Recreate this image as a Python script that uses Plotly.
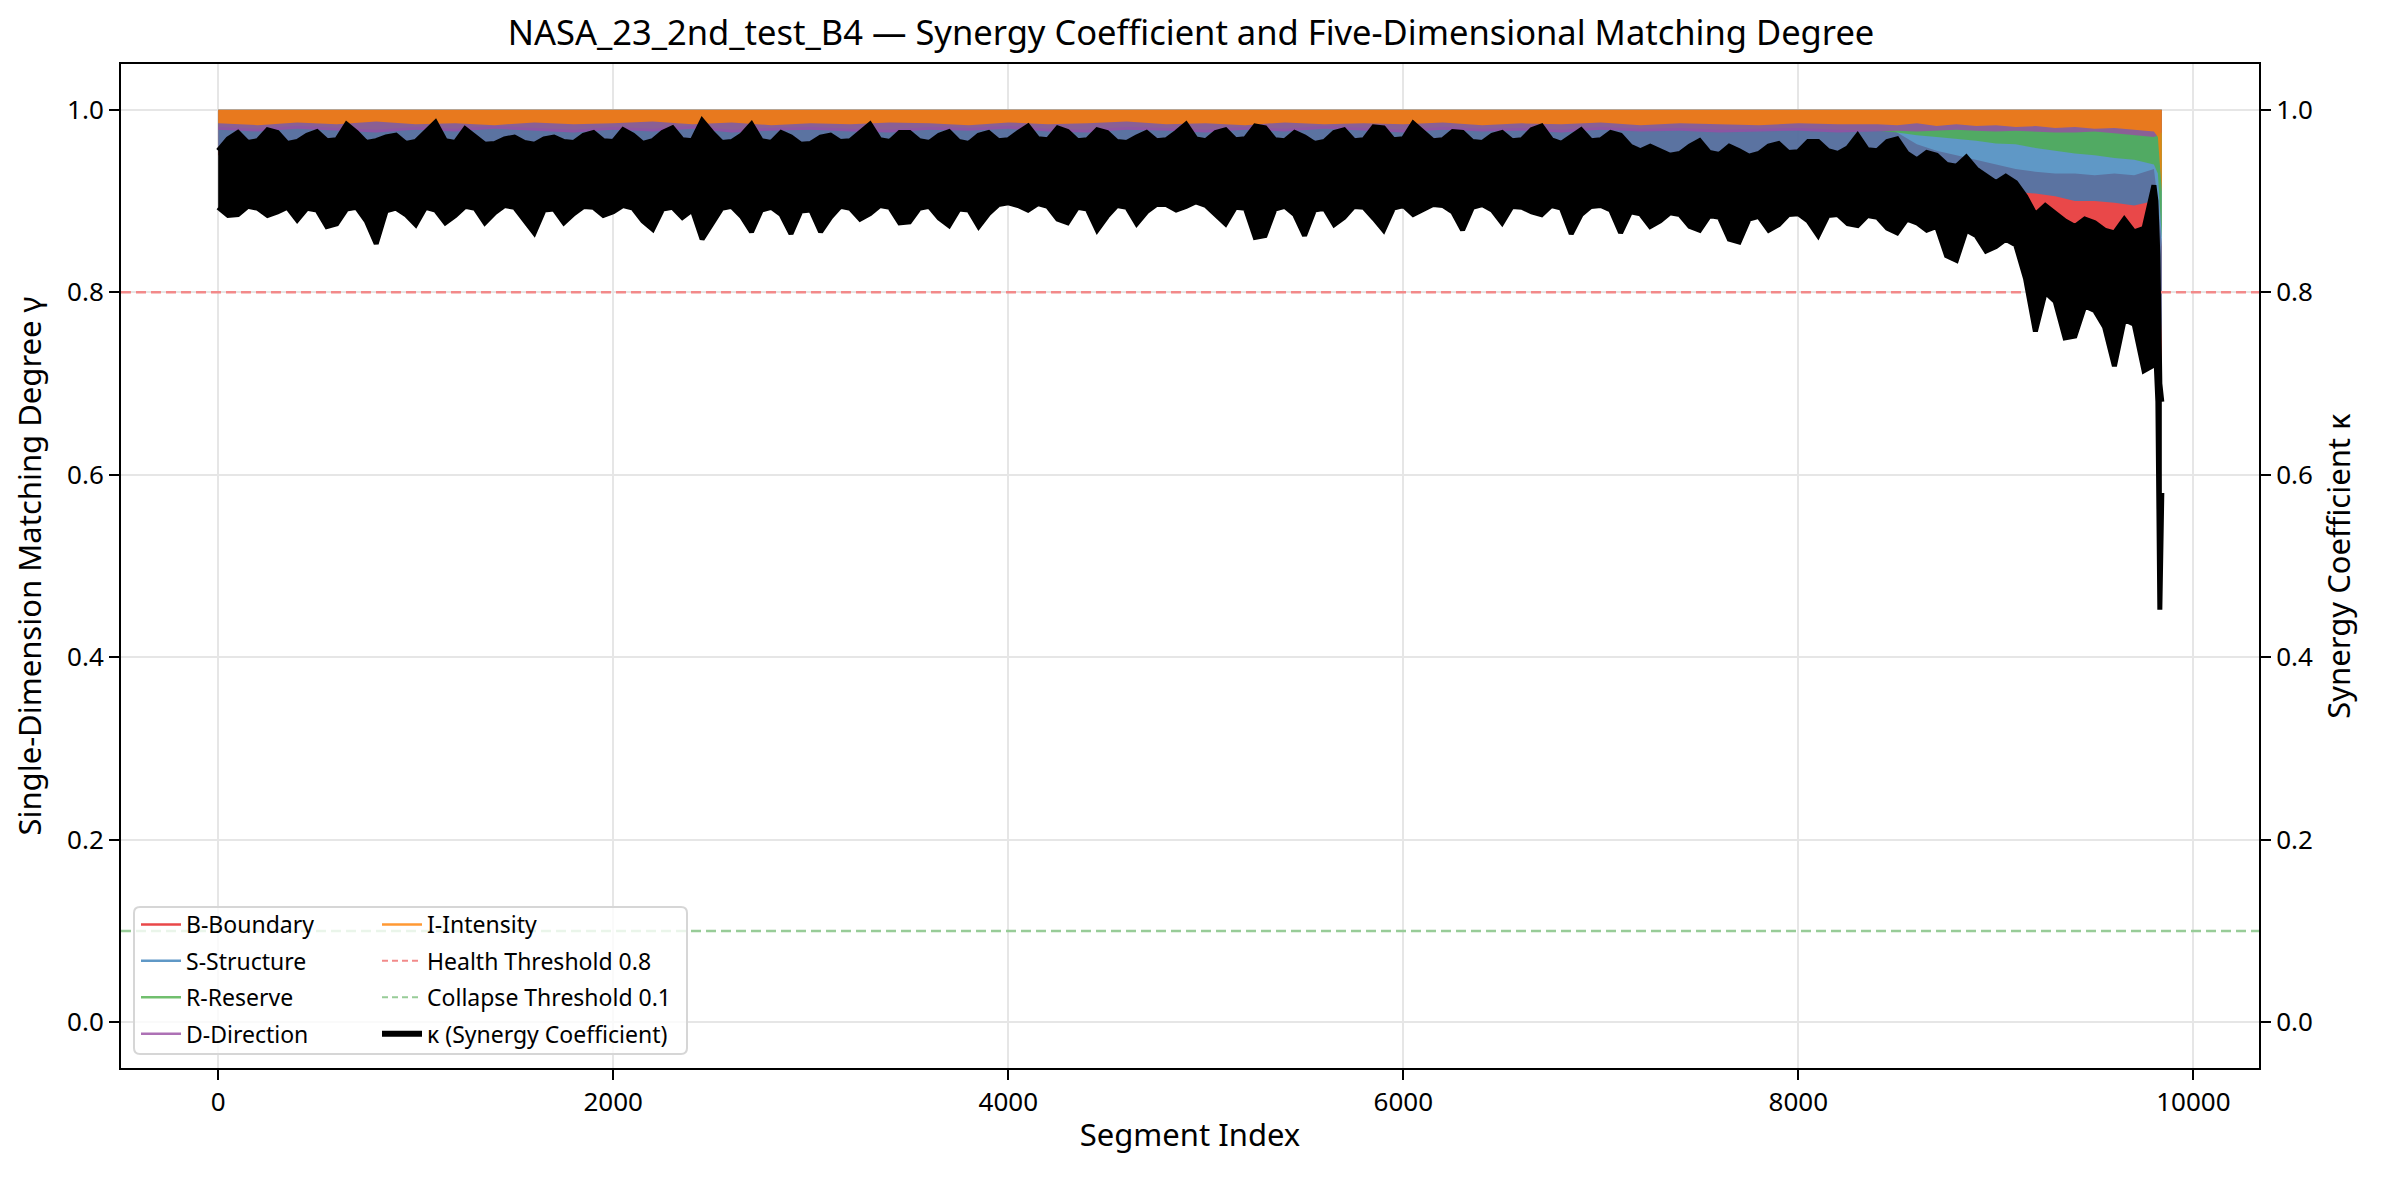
import plotly.graph_objects as go

# segment positions of the envelope samples
seg_kappa = list(range(0, 9801, 50)) + [9810, 9820, 9830, 9840]
seg_dim = list(range(0, 8400, 200)) + list(range(8400, 9801, 100)) + [9820, 9840]
X_RANGE = [-492, 10332]
Y_RANGE = [-0.05, 1.05]

# kappa (synergy coefficient): upper / lower envelope of the noisy trace, every 50 segments
kappa_hi = [
    0.955, 0.968, 0.975, 0.964, 0.966, 0.978, 0.975, 0.963, 0.965, 0.972,
    0.976, 0.966, 0.967, 0.984, 0.975, 0.964, 0.966, 0.970, 0.972, 0.963,
    0.965, 0.975, 0.986, 0.966, 0.964, 0.979, 0.970, 0.962, 0.963, 0.968,
    0.970, 0.964, 0.962, 0.968, 0.970, 0.965, 0.964, 0.972, 0.975, 0.966,
    0.965, 0.978, 0.972, 0.963, 0.966, 0.975, 0.980, 0.967, 0.966, 0.988,
    0.975, 0.964, 0.965, 0.972, 0.984, 0.966, 0.964, 0.975, 0.970, 0.962,
    0.963, 0.970, 0.972, 0.965, 0.966, 0.975, 0.984, 0.967, 0.965, 0.975,
    0.975, 0.966, 0.964, 0.972, 0.976, 0.965, 0.963, 0.972, 0.975, 0.966,
    0.967, 0.975, 0.982, 0.968, 0.967, 0.980, 0.976, 0.966, 0.967, 0.978,
    0.975, 0.965, 0.964, 0.970, 0.975, 0.966, 0.967, 0.975, 0.984, 0.968,
    0.966, 0.975, 0.978, 0.967, 0.968, 0.982, 0.980, 0.967, 0.966, 0.975,
    0.970, 0.963, 0.965, 0.975, 0.978, 0.966, 0.967, 0.981, 0.980, 0.967,
    0.968, 0.985, 0.975, 0.966, 0.967, 0.976, 0.975, 0.965, 0.964, 0.972,
    0.975, 0.966, 0.967, 0.978, 0.982, 0.967, 0.963, 0.970, 0.978, 0.966,
    0.967, 0.975, 0.972, 0.960, 0.955, 0.960, 0.955, 0.950, 0.952, 0.960,
    0.966, 0.953, 0.951, 0.960, 0.955, 0.949, 0.952, 0.960, 0.963, 0.953,
    0.954, 0.965, 0.965, 0.955, 0.952, 0.958, 0.972, 0.956, 0.955, 0.965,
    0.968, 0.952, 0.945, 0.953, 0.950, 0.940, 0.938, 0.948, 0.935, 0.928,
    0.920, 0.927, 0.920, 0.905, 0.885, 0.895, 0.887, 0.878, 0.872, 0.880,
    0.876, 0.868, 0.865, 0.880, 0.866, 0.870, 0.917,
    0.900, 0.840, 0.700, 0.680,
]
kappa_lo = [
    0.893, 0.884, 0.885, 0.894, 0.892, 0.884, 0.888, 0.893, 0.879, 0.892,
    0.890, 0.872, 0.875, 0.891, 0.893, 0.878, 0.853, 0.889, 0.892, 0.885,
    0.874, 0.893, 0.890, 0.876, 0.884, 0.894, 0.892, 0.876, 0.887, 0.895,
    0.893, 0.880, 0.865, 0.890, 0.891, 0.876, 0.886, 0.894, 0.893, 0.884,
    0.888, 0.895, 0.892, 0.878, 0.869, 0.891, 0.893, 0.882, 0.890, 0.858,
    0.876, 0.892, 0.894, 0.883, 0.866, 0.890, 0.893, 0.885, 0.864, 0.889,
    0.890, 0.866, 0.882, 0.894, 0.892, 0.880, 0.886, 0.895, 0.893, 0.876,
    0.877, 0.892, 0.894, 0.881, 0.873, 0.891, 0.890, 0.872, 0.886, 0.896,
    0.898, 0.895, 0.890, 0.897, 0.894, 0.880, 0.876, 0.893, 0.891, 0.868,
    0.883, 0.895, 0.893, 0.875, 0.888, 0.896, 0.896, 0.890, 0.894, 0.899,
    0.895, 0.885, 0.875, 0.893, 0.892, 0.860, 0.862, 0.891, 0.894, 0.885,
    0.862, 0.890, 0.892, 0.874, 0.882, 0.894, 0.893, 0.881, 0.868, 0.892,
    0.895, 0.885, 0.890, 0.896, 0.895, 0.888, 0.868, 0.893, 0.896, 0.890,
    0.876, 0.894, 0.893, 0.888, 0.885, 0.895, 0.892, 0.864, 0.885, 0.894,
    0.895, 0.890, 0.865, 0.888, 0.886, 0.872, 0.878, 0.887, 0.885, 0.872,
    0.868, 0.884, 0.882, 0.858, 0.855, 0.880, 0.883, 0.868, 0.874, 0.885,
    0.886, 0.878, 0.862, 0.884, 0.885, 0.875, 0.873, 0.884, 0.882, 0.870,
    0.865, 0.880, 0.876, 0.868, 0.872, 0.840, 0.835, 0.868, 0.862, 0.845,
    0.850, 0.858, 0.852, 0.815, 0.757, 0.800, 0.790, 0.750, 0.752, 0.785,
    0.780, 0.762, 0.719, 0.770, 0.765, 0.714, 0.720,
    0.730, 0.680, 0.452, 0.580,
]

# five matching dimensions: band edges (upper edge sits at 1.0, B drops at the end)
b_hi = [
    0.990, 0.991, 0.989, 0.990, 0.992, 0.989, 0.990, 0.991, 0.989, 0.990,
    0.991, 0.989, 0.990, 0.992, 0.990, 0.989, 0.991, 0.990, 0.989, 0.991,
    0.990, 0.992, 0.989, 0.990, 0.991, 0.989, 0.990, 0.991, 0.990, 0.989,
    0.991, 0.990, 0.989, 0.991, 0.990, 0.989, 0.990, 0.988, 0.989, 0.987,
    0.988, 0.986,
    0.985, 0.975, 0.962, 0.955, 0.950, 0.945, 0.940, 0.935, 0.932, 0.930,
    0.930, 0.928, 0.930, 0.928, 0.935,
    0.900, 0.850,
]
b_lo = [
    0.950, 0.952, 0.949, 0.951, 0.948, 0.952, 0.950, 0.949, 0.951, 0.950,
    0.948, 0.951, 0.950, 0.952, 0.949, 0.950, 0.951, 0.948, 0.950, 0.952,
    0.949, 0.951, 0.950, 0.948, 0.951, 0.950, 0.949, 0.951, 0.950, 0.948,
    0.950, 0.949, 0.951, 0.948, 0.950, 0.946, 0.944, 0.943, 0.945, 0.942,
    0.944, 0.943,
    0.943, 0.938, 0.930, 0.920, 0.912, 0.905, 0.900, 0.890, 0.880, 0.872,
    0.865, 0.860, 0.855, 0.855, 0.860,
    0.800, 0.700,
]
s_lo = [
    0.955, 0.957, 0.954, 0.956, 0.953, 0.957, 0.955, 0.954, 0.956, 0.955,
    0.953, 0.956, 0.955, 0.957, 0.954, 0.955, 0.956, 0.953, 0.955, 0.957,
    0.954, 0.956, 0.955, 0.953, 0.956, 0.955, 0.954, 0.956, 0.955, 0.953,
    0.955, 0.954, 0.956, 0.953, 0.955, 0.950, 0.948, 0.947, 0.949, 0.946,
    0.948, 0.947,
    0.948, 0.943, 0.935, 0.930, 0.925, 0.920, 0.915, 0.910, 0.908, 0.905,
    0.900, 0.900, 0.898, 0.895, 0.900,
    0.860, 0.745,
]
r_lo = [
    0.981, 0.979, 0.982, 0.980, 0.978, 0.981, 0.979, 0.982, 0.980, 0.978,
    0.981, 0.979, 0.982, 0.978, 0.980, 0.981, 0.979, 0.978, 0.981, 0.980,
    0.982, 0.979, 0.978, 0.981, 0.980, 0.978, 0.981, 0.979, 0.982, 0.980,
    0.978, 0.981, 0.979, 0.980, 0.978, 0.981, 0.979, 0.980, 0.978, 0.979,
    0.980, 0.978,
    0.977, 0.975, 0.972, 0.970, 0.968, 0.966, 0.963, 0.962, 0.958, 0.955,
    0.952, 0.950, 0.947, 0.945, 0.940,
    0.930, 0.860,
]
d_lo = [
    0.978, 0.976, 0.979, 0.977, 0.975, 0.978, 0.976, 0.979, 0.977, 0.975,
    0.978, 0.976, 0.979, 0.975, 0.977, 0.978, 0.976, 0.975, 0.978, 0.977,
    0.979, 0.976, 0.975, 0.978, 0.977, 0.975, 0.978, 0.976, 0.979, 0.977,
    0.975, 0.978, 0.976, 0.977, 0.975, 0.978, 0.976, 0.977, 0.975, 0.976,
    0.977, 0.975,
    0.976, 0.977, 0.976, 0.977, 0.978, 0.977, 0.976, 0.977, 0.976, 0.975,
    0.975, 0.976, 0.974, 0.972, 0.970,
    0.972, 0.975,
]
i_lo = [
    0.985, 0.983, 0.986, 0.984, 0.987, 0.984, 0.985, 0.983, 0.986, 0.984,
    0.985, 0.987, 0.984, 0.986, 0.983, 0.985, 0.984, 0.986, 0.985, 0.983,
    0.986, 0.984, 0.985, 0.987, 0.984, 0.985, 0.983, 0.986, 0.984, 0.985,
    0.984, 0.986, 0.983, 0.985, 0.984, 0.986, 0.983, 0.985, 0.984, 0.983,
    0.985, 0.984,
    0.984, 0.983, 0.985, 0.982, 0.984, 0.982, 0.983, 0.981, 0.982, 0.980,
    0.981, 0.979, 0.980, 0.978, 0.976,
    0.970, 0.910,
]
TOP = 1.0  # matching degree saturates at 1.0

HEALTH = 0.8
COLLAPSE = 0.1

dims = [
    ("B-Boundary", b_hi, b_lo, "rgba(228,26,28,0.8)"),
    ("S-Structure", [TOP] * len(s_lo), s_lo, "rgba(55,126,184,0.8)"),
    ("R-Reserve", [TOP] * len(r_lo), r_lo, "rgba(77,175,74,0.8)"),
    ("D-Direction", [TOP] * len(d_lo), d_lo, "rgba(152,78,163,0.8)"),
    ("I-Intensity", [TOP] * len(i_lo), i_lo, "rgba(255,127,0,0.8)"),
]
HEALTH_COLOR = "#f28a8a"
COLLAPSE_COLOR = "#98cc98"

fig = go.Figure()

for name, hi, lo, col in dims:
    fig.add_trace(go.Scatter(x=seg_dim, y=hi, mode="lines", line=dict(width=0, color=col),
                             showlegend=False, hoverinfo="skip"))
    fig.add_trace(go.Scatter(x=seg_dim, y=lo, mode="lines", line=dict(width=0, color=col),
                             fill="tonexty", fillcolor=col, showlegend=False, name=name))

# threshold lines across the whole axis
for yv, col, name in [(HEALTH, HEALTH_COLOR, "Health Threshold 0.8"),
                      (COLLAPSE, COLLAPSE_COLOR, "Collapse Threshold 0.1")]:
    fig.add_trace(go.Scatter(x=X_RANGE, y=[yv, yv], mode="lines", showlegend=False, name=name,
                             line=dict(color=col, width=2.5, dash="10px,5px"), hoverinfo="skip"))

# kappa on the twin axis
fig.add_trace(go.Scatter(x=seg_kappa, y=kappa_hi, mode="lines", yaxis="y2",
                         line=dict(width=5, color="black"), showlegend=False, hoverinfo="skip"))
fig.add_trace(go.Scatter(x=seg_kappa, y=kappa_lo, mode="lines", yaxis="y2",
                         line=dict(width=5, color="black"), fill="tonexty", fillcolor="black",
                         showlegend=False, name="κ"))

# legend entries (two columns)
legend_cols = [
    ("legend", "B-Boundary", dims[0][3], 2.5, "solid"),
    ("legend", "S-Structure", dims[1][3], 2.5, "solid"),
    ("legend", "R-Reserve", dims[2][3], 2.5, "solid"),
    ("legend", "D-Direction", dims[3][3], 2.5, "solid"),
    ("legend2", "I-Intensity", dims[4][3], 2.5, "solid"),
    ("legend2", "Health Threshold 0.8", HEALTH_COLOR, 2, "6px,4px"),
    ("legend2", "Collapse Threshold 0.1", COLLAPSE_COLOR, 2, "6px,4px"),
    ("legend2", "κ (Synergy Coefficient)", "black", 6, "solid"),
]
for leg, name, col, w, dash in legend_cols:
    fig.add_trace(go.Scatter(x=[None], y=[None], mode="lines", name=name, legend=leg,
                             legendgroup=name, line=dict(color=col, width=w, dash=dash)))

# legend frame (paper coords of the plot area 2138 x 1004 px)
L, R_, T, B_ = (134 - 121) / 2138, (687 - 121) / 2138, (1068 - 907) / 1004, (1068 - 1054) / 1004
rx, ry = 6 / 2138, 6 / 1004
path = (f"M{L+rx},{B_} L{R_-rx},{B_} Q{R_},{B_} {R_},{B_+ry} L{R_},{T-ry} Q{R_},{T} {R_-rx},{T} "
        f"L{L+rx},{T} Q{L},{T} {L},{T-ry} L{L},{B_+ry} Q{L},{B_} {L+rx},{B_} Z")
fig.add_shape(type="path", xref="paper", yref="paper", path=path,
              fillcolor="rgba(255,255,255,0.8)", line=dict(color="#d6d6d6", width=2), layer="above")

axis_common = dict(showline=True, linecolor="black", linewidth=2, ticks="outside", ticklen=10,
                   tickwidth=2, tickcolor="black", zeroline=False,
                   tickfont=dict(size=26, color="black"))

leg_common = dict(xanchor="left", yanchor="top", bgcolor="rgba(0,0,0,0)", borderwidth=0,
                  font=dict(size=23, color="black"), tracegroupgap=3.5, itemwidth=40)

# page body adds an 8px margin, so the figure is drawn 8px in from the top-left
fig.update_layout(
    width=2366, height=1163,
    margin=dict(l=113, r=115, t=56, b=103),
    paper_bgcolor="white", plot_bgcolor="white",
    font=dict(family="Noto Sans", size=26, color="black"),
    title=dict(text="NASA_23_2nd_test_B4 — Synergy Coefficient and Five-Dimensional Matching Degree",
               x=0.5, xanchor="center", y=1 - 25 / 1163, yanchor="middle",
               font=dict(size=34.5, color="black")),
    xaxis=dict(range=X_RANGE, tick0=0, dtick=2000, tickformat="d", mirror=True,
               showgrid=True, gridcolor="#e6e6e6", gridwidth=1.5,
               title=dict(text="Segment Index", font=dict(size=31), standoff=6), **axis_common),
    yaxis=dict(range=Y_RANGE, tick0=0, dtick=0.2, tickformat=".1f",
               showgrid=True, gridcolor="#e6e6e6", gridwidth=1.5,
               title=dict(text="Single-Dimension Matching Degree γ", font=dict(size=31), standoff=20),
               **axis_common),
    yaxis2=dict(range=Y_RANGE, tick0=0, dtick=0.2, tickformat=".1f", overlaying="y",
                side="right", showgrid=False,
                title=dict(text="Synergy Coefficient κ", font=dict(size=31), standoff=16),
                **axis_common),
    legend=dict(x=(136 - 121) / 2138, y=(1068 - 903) / 1004, **leg_common),
    legend2=dict(x=(377 - 121) / 2138, y=(1068 - 903) / 1004, **leg_common),
    showlegend=True,
)

fig.write_html("out.html")
